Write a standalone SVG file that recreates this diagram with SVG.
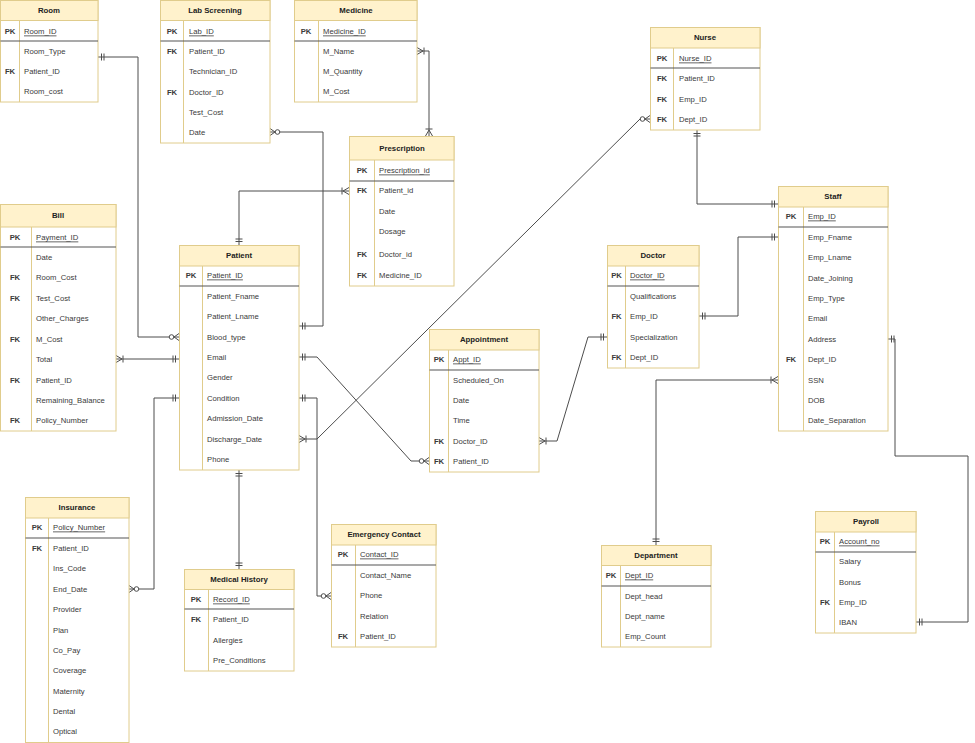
<svg xmlns="http://www.w3.org/2000/svg" width="975" height="743" viewBox="0 0 975 743">
<style>
text{font-family:"Liberation Sans",Arial,sans-serif;font-size:7.7px;fill:#3a3a3a;dominant-baseline:central}
.t{font-weight:bold;text-anchor:middle;font-size:7.8px;fill:#222}
.k{font-weight:bold;text-anchor:middle}
.pk{text-decoration:underline}
.box{fill:#fff;stroke:#e0cc8c;stroke-width:1}
.hd{fill:#fff2cc;stroke:#e0cc8c;stroke-width:1}
.sep{stroke:#555;stroke-width:1.2}
.dv{stroke:#e0cc8c;stroke-width:1}
.c{fill:none;stroke:#4d4d4d;stroke-width:1}
</style>
<defs>
<marker id="one" markerUnits="userSpaceOnUse" orient="auto-start-reverse" refX="0" refY="0" viewBox="-12 -6 13 12" markerWidth="13" markerHeight="12" overflow="visible">
<path d="M-3.5,-3.5V3.5M-6,-3.5V3.5" fill="none" stroke="#4d4d4d" stroke-width="1"/>
</marker>
<marker id="many" markerUnits="userSpaceOnUse" orient="auto-start-reverse" refX="0" refY="0" viewBox="-12 -6 13 12" markerWidth="13" markerHeight="12" overflow="visible">
<path d="M0,-3.5L-6,0L0,3.5M-7,-3.5V3.5" fill="none" stroke="#4d4d4d" stroke-width="1"/>
</marker>
<marker id="zmany" markerUnits="userSpaceOnUse" orient="auto-start-reverse" refX="0" refY="0" viewBox="-12 -6 13 12" markerWidth="13" markerHeight="12" overflow="visible">
<path d="M0,-3.5L-5,0L0,3.5" fill="none" stroke="#4d4d4d" stroke-width="1"/>
<circle cx="-7.5" cy="0" r="2.3" fill="#fff" stroke="#4d4d4d" stroke-width="1"/>
</marker>
</defs>

<g id="connectors">
<path class="c" d="M98 57H138V337H179" marker-start="url(#one)" marker-end="url(#zmany)"/>
<path class="c" d="M270 132H323V326H299" marker-start="url(#zmany)" marker-end="url(#one)"/>
<path class="c" d="M417 51H429V136" marker-start="url(#many)" marker-end="url(#many)"/>
<path class="c" d="M239 245V191H349" marker-start="url(#one)" marker-end="url(#many)"/>
<path class="c" d="M299 439H317L640 119H650" marker-start="url(#many)" marker-end="url(#zmany)"/>
<path class="c" d="M697 130V204H778" marker-start="url(#one)" marker-end="url(#one)"/>
<path class="c" d="M699 316H738V237H778" marker-start="url(#one)" marker-end="url(#one)"/>
<path class="c" d="M539 441H557L588 337H607" marker-start="url(#many)" marker-end="url(#one)"/>
<path class="c" d="M778 380H656V545" marker-start="url(#many)" marker-end="url(#one)"/>
<path class="c" d="M888 339H895V456H968V622H916" marker-start="url(#one)" marker-end="url(#one)"/>
<path class="c" d="M116 359H179" marker-start="url(#many)" marker-end="url(#one)"/>
<path class="c" d="M179 398H154V589H129" marker-start="url(#one)" marker-end="url(#zmany)"/>
<path class="c" d="M299 357H317L411 461H429" marker-start="url(#one)" marker-end="url(#zmany)"/>
<path class="c" d="M299 398H317V596H331" marker-start="url(#one)" marker-end="url(#zmany)"/>
<path class="c" d="M239 470V569" marker-start="url(#one)" marker-end="url(#one)"/>
</g>

<g id="room">
<rect class="box" x="0.5" y="0.5" width="97.5" height="101.5"/>
<rect class="hd" x="0.5" y="0.5" width="97.5" height="20"/>
<line class="dv" x1="19.5" y1="20.5" x2="19.5" y2="102"/>
<line class="sep" x1="0.5" y1="41" x2="98" y2="41"/>
<text class="t" x="49" y="10.5">Room</text>
<text class="k" x="10" y="31">PK</text><text class="pk" x="24" y="31">Room_ID</text>
<text x="24" y="51">Room_Type</text>
<text class="k" x="10" y="71">FK</text><text x="24" y="71">Patient_ID</text>
<text x="24" y="91">Room_cost</text>
</g>

<g id="lab">
<rect class="box" x="160.5" y="0.5" width="109.5" height="142.5"/>
<rect class="hd" x="160.5" y="0.5" width="109.5" height="20"/>
<line class="dv" x1="183.5" y1="20.5" x2="183.5" y2="143"/>
<line class="sep" x1="160.5" y1="41" x2="270" y2="41"/>
<text class="t" x="215" y="10.5">Lab Screening</text>
<text class="k" x="172" y="31">PK</text><text class="pk" x="189" y="31">Lab_ID</text>
<text class="k" x="172" y="51">FK</text><text x="189" y="51">Patient_ID</text>
<text x="189" y="71">Technician_ID</text>
<text class="k" x="172" y="92">FK</text><text x="189" y="92">Doctor_ID</text>
<text x="189" y="112">Test_Cost</text>
<text x="189" y="132">Date</text>
</g>

<g id="medicine">
<rect class="box" x="294.5" y="0.5" width="122.5" height="101.5"/>
<rect class="hd" x="294.5" y="0.5" width="122.5" height="20"/>
<line class="dv" x1="318.5" y1="20.5" x2="318.5" y2="102"/>
<line class="sep" x1="294.5" y1="41" x2="417" y2="41"/>
<text class="t" x="356" y="10.5">Medicine</text>
<text class="k" x="306" y="31">PK</text><text class="pk" x="323" y="31">Medicine_ID</text>
<text x="323" y="51">M_Name</text>
<text x="323" y="71">M_Quantity</text>
<text x="323" y="91">M_Cost</text>
</g>

<g id="prescription">
<rect class="box" x="349.5" y="136.5" width="104.5" height="149.5"/>
<rect class="hd" x="349.5" y="136.5" width="104.5" height="23.5"/>
<line class="dv" x1="374.5" y1="160" x2="374.5" y2="286"/>
<line class="sep" x1="349.5" y1="181" x2="454" y2="181"/>
<text class="t" x="402" y="148">Prescription</text>
<text class="k" x="362" y="170">PK</text><text class="pk" x="379" y="170">Prescription_id</text>
<text class="k" x="362" y="190">FK</text><text x="379" y="190">Patient_id</text>
<text x="379" y="211">Date</text>
<text x="379" y="231">Dosage</text>
<text class="k" x="362" y="254">FK</text><text x="379" y="254">Doctor_id</text>
<text class="k" x="362" y="275">FK</text><text x="379" y="275">Medicine_ID</text>
</g>

<g id="nurse">
<rect class="box" x="650.5" y="27.5" width="109.5" height="102.5"/>
<rect class="hd" x="650.5" y="27.5" width="109.5" height="20.5"/>
<line class="dv" x1="673.5" y1="48" x2="673.5" y2="130"/>
<line class="sep" x1="650.5" y1="68" x2="760" y2="68"/>
<text class="t" x="705" y="37.5">Nurse</text>
<text class="k" x="662" y="58">PK</text><text class="pk" x="679" y="58">Nurse_ID</text>
<text class="k" x="662" y="78">FK</text><text x="679" y="78">Patient_ID</text>
<text class="k" x="662" y="99">FK</text><text x="679" y="99">Emp_ID</text>
<text class="k" x="662" y="119">FK</text><text x="679" y="119">Dept_ID</text>
</g>

<g id="staff">
<rect class="box" x="778.5" y="186.5" width="109.5" height="244.5"/>
<rect class="hd" x="778.5" y="186.5" width="109.5" height="20.5"/>
<line class="dv" x1="803.5" y1="207" x2="803.5" y2="431"/>
<line class="sep" x1="778.5" y1="227" x2="888" y2="227"/>
<text class="t" x="833" y="196.5">Staff</text>
<text class="k" x="791" y="216">PK</text><text class="pk" x="808" y="216">Emp_ID</text>
<text x="808" y="237">Emp_Fname</text>
<text x="808" y="257">Emp_Lname</text>
<text x="808" y="278">Date_Joining</text>
<text x="808" y="298">Emp_Type</text>
<text x="808" y="318">Email</text>
<text x="808" y="339">Address</text>
<text class="k" x="791" y="359">FK</text><text x="808" y="359">Dept_ID</text>
<text x="808" y="380">SSN</text>
<text x="808" y="400">DOB</text>
<text x="808" y="420">Date_Separation</text>
</g>

<g id="doctor">
<rect class="box" x="607.5" y="245.5" width="91.5" height="122.5"/>
<rect class="hd" x="607.5" y="245.5" width="91.5" height="20.5"/>
<line class="dv" x1="625.5" y1="266" x2="625.5" y2="368"/>
<line class="sep" x1="607.5" y1="286" x2="699" y2="286"/>
<text class="t" x="653" y="255.5">Doctor</text>
<text class="k" x="616.5" y="275">PK</text><text class="pk" x="630" y="275">Doctor_ID</text>
<text x="630" y="296">Qualifications</text>
<text class="k" x="616.5" y="316">FK</text><text x="630" y="316">Emp_ID</text>
<text x="630" y="337">Specialization</text>
<text class="k" x="616.5" y="357">FK</text><text x="630" y="357">Dept_ID</text>
</g>

<g id="appointment">
<rect class="box" x="429.5" y="329.5" width="109.5" height="142.5"/>
<rect class="hd" x="429.5" y="329.5" width="109.5" height="20.5"/>
<line class="dv" x1="448.5" y1="350" x2="448.5" y2="472"/>
<line class="sep" x1="429.5" y1="370" x2="539" y2="370"/>
<text class="t" x="484" y="339.5">Appointment</text>
<text class="k" x="439" y="359">PK</text><text class="pk" x="453" y="359">Appt_ID</text>
<text x="453" y="380">Scheduled_On</text>
<text x="453" y="400">Date</text>
<text x="453" y="420">Time</text>
<text class="k" x="439" y="441">FK</text><text x="453" y="441">Doctor_ID</text>
<text class="k" x="439" y="461">FK</text><text x="453" y="461">Patient_ID</text>
</g>

<g id="bill">
<rect class="box" x="0.5" y="204.5" width="115.5" height="226.5"/>
<rect class="hd" x="0.5" y="204.5" width="115.5" height="22.5"/>
<line class="dv" x1="31.5" y1="227" x2="31.5" y2="431"/>
<line class="sep" x1="0.5" y1="247" x2="116" y2="247"/>
<text class="t" x="58" y="215.5">Bill</text>
<text class="k" x="15" y="237">PK</text><text class="pk" x="36" y="237">Payment_ID</text>
<text x="36" y="257">Date</text>
<text class="k" x="15" y="277">FK</text><text x="36" y="277">Room_Cost</text>
<text class="k" x="15" y="298">FK</text><text x="36" y="298">Test_Cost</text>
<text x="36" y="318">Other_Charges</text>
<text class="k" x="15" y="339">FK</text><text x="36" y="339">M_Cost</text>
<text x="36" y="359">Total</text>
<text class="k" x="15" y="380">FK</text><text x="36" y="380">Patient_ID</text>
<text x="36" y="400">Remaining_Balance</text>
<text class="k" x="15" y="420">FK</text><text x="36" y="420">Policy_Number</text>
</g>

<g id="patient">
<rect class="box" x="179.5" y="245.5" width="119.5" height="224.5"/>
<rect class="hd" x="179.5" y="245.5" width="119.5" height="20.5"/>
<line class="dv" x1="202.5" y1="266" x2="202.5" y2="470"/>
<line class="sep" x1="179.5" y1="286" x2="299" y2="286"/>
<text class="t" x="239" y="255.5">Patient</text>
<text class="k" x="191" y="275">PK</text><text class="pk" x="207" y="275">Patient_ID</text>
<text x="207" y="296">Patient_Fname</text>
<text x="207" y="316">Patient_Lname</text>
<text x="207" y="337">Blood_type</text>
<text x="207" y="357">Email</text>
<text x="207" y="377">Gender</text>
<text x="207" y="398">Condition</text>
<text x="207" y="418">Admission_Date</text>
<text x="207" y="439">Discharge_Date</text>
<text x="207" y="459">Phone</text>
</g>

<g id="insurance">
<rect class="box" x="25.5" y="497.5" width="103.5" height="245"/>
<rect class="hd" x="25.5" y="497.5" width="103.5" height="20.5"/>
<line class="dv" x1="48.5" y1="518" x2="48.5" y2="743"/>
<line class="sep" x1="25.5" y1="538" x2="129" y2="538"/>
<text class="t" x="77" y="507.5">Insurance</text>
<text class="k" x="37" y="527">PK</text><text class="pk" x="53" y="527">Policy_Number</text>
<text class="k" x="37" y="548">FK</text><text x="53" y="548">Patient_ID</text>
<text x="53" y="568">Ins_Code</text>
<text x="53" y="589">End_Date</text>
<text x="53" y="609">Provider</text>
<text x="53" y="630">Plan</text>
<text x="53" y="650">Co_Pay</text>
<text x="53" y="670">Coverage</text>
<text x="53" y="691">Maternity</text>
<text x="53" y="711">Dental</text>
<text x="53" y="731">Optical</text>
</g>

<g id="medical_history">
<rect class="box" x="184.5" y="569.5" width="109.5" height="101.5"/>
<rect class="hd" x="184.5" y="569.5" width="109.5" height="20"/>
<line class="dv" x1="208.5" y1="589.5" x2="208.5" y2="671"/>
<line class="sep" x1="184.5" y1="609" x2="294" y2="609"/>
<text class="t" x="239" y="579.5">Medical History</text>
<text class="k" x="196" y="599">PK</text><text class="pk" x="213" y="599">Record_ID</text>
<text class="k" x="196" y="619">FK</text><text x="213" y="619">Patient_ID</text>
<text x="213" y="640">Allergies</text>
<text x="213" y="660">Pre_Conditions</text>
</g>

<g id="emergency_contact">
<rect class="box" x="331.5" y="524.5" width="104.5" height="122.5"/>
<rect class="hd" x="331.5" y="524.5" width="104.5" height="20.5"/>
<line class="dv" x1="355.5" y1="545" x2="355.5" y2="647"/>
<line class="sep" x1="331.5" y1="565" x2="436" y2="565"/>
<text class="t" x="384" y="534.5">Emergency Contact</text>
<text class="k" x="343" y="554">PK</text><text class="pk" x="360" y="554">Contact_ID</text>
<text x="360" y="575">Contact_Name</text>
<text x="360" y="595">Phone</text>
<text x="360" y="616">Relation</text>
<text class="k" x="343" y="636">FK</text><text x="360" y="636">Patient_ID</text>
</g>

<g id="department">
<rect class="box" x="601.5" y="545.5" width="109.5" height="101.5"/>
<rect class="hd" x="601.5" y="545.5" width="109.5" height="20"/>
<line class="dv" x1="620.5" y1="565.5" x2="620.5" y2="647"/>
<line class="sep" x1="601.5" y1="586" x2="711" y2="586"/>
<text class="t" x="656" y="555.5">Department</text>
<text class="k" x="611" y="575">PK</text><text class="pk" x="625" y="575">Dept_ID</text>
<text x="625" y="596">Dept_head</text>
<text x="625" y="616">Dept_name</text>
<text x="625" y="636">Emp_Count</text>
</g>

<g id="payroll">
<rect class="box" x="815.5" y="511.5" width="100.5" height="121.5"/>
<rect class="hd" x="815.5" y="511.5" width="100.5" height="20.5"/>
<line class="dv" x1="834.5" y1="532" x2="834.5" y2="633"/>
<line class="sep" x1="815.5" y1="552" x2="916" y2="552"/>
<text class="t" x="866" y="521.5">Payroll</text>
<text class="k" x="825" y="541">PK</text><text class="pk" x="839" y="541">Account_no</text>
<text x="839" y="561">Salary</text>
<text x="839" y="582">Bonus</text>
<text class="k" x="825" y="602">FK</text><text x="839" y="602">Emp_ID</text>
<text x="839" y="622">IBAN</text>
</g>
</svg>
